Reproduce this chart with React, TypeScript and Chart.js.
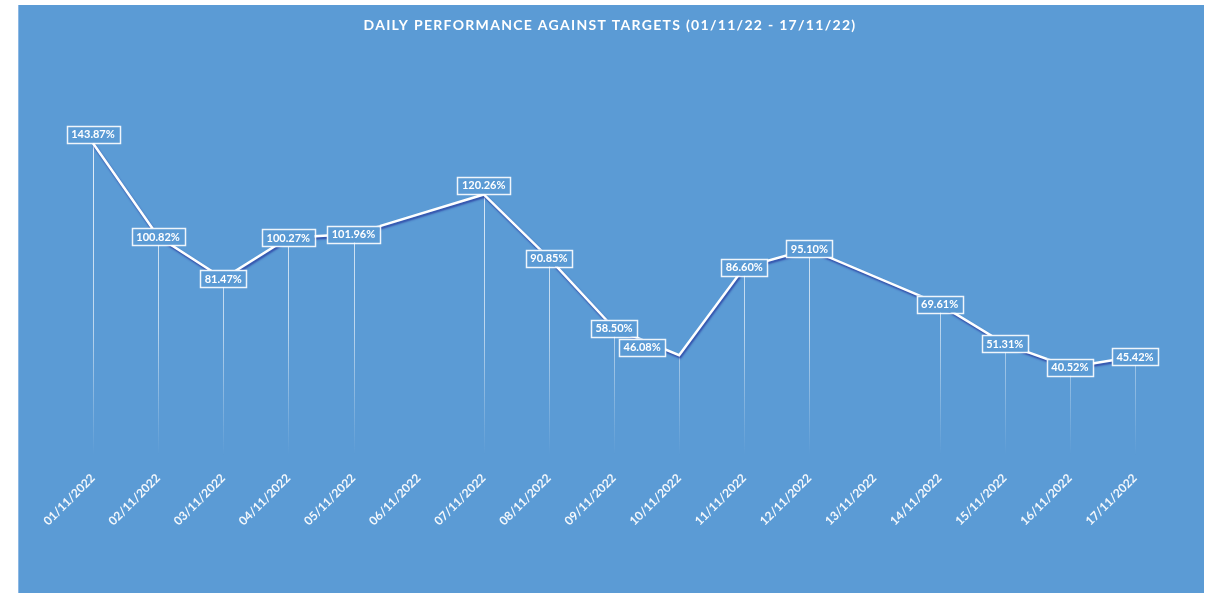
import React, { useEffect, useRef } from "react";
import { Chart, registerables } from "chart.js";

Chart.register(...registerables);

const categories = [
  "01/11/2022", "02/11/2022", "03/11/2022", "04/11/2022", "05/11/2022", "06/11/2022",
  "07/11/2022", "08/11/2022", "09/11/2022", "10/11/2022", "11/11/2022", "12/11/2022",
  "13/11/2022", "14/11/2022", "15/11/2022", "16/11/2022", "17/11/2022",
];
const performance: (number | null)[] = [
  143.87, 100.82, 81.47, 100.27, 101.96, null, 120.26, 90.85, 58.5, 46.08,
  86.6, 95.1, null, 69.61, 51.31, 40.52, 45.42,
];
const titleText = "DAILY PERFORMANCE AGAINST TARGETS (01/11/22 - 17/11/22)";
const yMin = 0;
const yMax = 150;

const BLUE = "#5B9BD5";

// label placement tweaks (index -> [dx, dy])
const labelShift: Record<number, [number, number]> = {
  0: [0, -9],
  6: [0, -9],
  9: [-37, -8],
};

const titlePlugin = {
  id: "customTitle",
  afterDraw(chart: any) {
    const ctx = chart.ctx;
    ctx.save();
    ctx.font = "bold 14px Lato";
    (ctx as any).letterSpacing = "1.3px";
    ctx.fillStyle = "#ffffff";
    ctx.textAlign = "center";
    ctx.textBaseline = "middle";
    ctx.fillText(titleText, 592, 20);
    ctx.restore();
  },
};

const dropLinePlugin = {
  id: "dropLines",
  beforeDatasetsDraw(chart: any) {
    const ctx = chart.ctx;
    const area = chart.chartArea;
    const meta = chart.getDatasetMeta(0);
    const grad = ctx.createLinearGradient(0, area.top, 0, area.bottom);
    grad.addColorStop(0, "rgba(255,255,255,0.85)");
    grad.addColorStop(0.6, "rgba(255,255,255,0.6)");
    grad.addColorStop(1, "rgba(255,255,255,0)");
    ctx.save();
    ctx.strokeStyle = grad;
    ctx.lineWidth = 1;
    meta.data.forEach((el: any, i: number) => {
      if (performance[i] === null) return;
      const x = Math.round(el.x) + 0.5;
      ctx.beginPath();
      ctx.moveTo(x, el.y);
      ctx.lineTo(x, area.bottom);
      ctx.stroke();
    });
    ctx.restore();
  },
};

const shadowPlugin = {
  id: "lineShadow",
  beforeDatasetDraw(chart: any) {
    const ctx = chart.ctx;
    ctx.save();
    ctx.shadowColor = "rgba(40,60,160,0.85)";
    ctx.shadowOffsetX = 1;
    ctx.shadowOffsetY = 2;
    ctx.shadowBlur = 2;
  },
  afterDatasetDraw(chart: any) {
    chart.ctx.restore();
  },
};

const labelPlugin = {
  id: "boxLabels",
  afterDatasetsDraw(chart: any) {
    const ctx = chart.ctx;
    const meta = chart.getDatasetMeta(0);
    ctx.save();
    ctx.font = "bold 11px Lato";
    ctx.textAlign = "center";
    ctx.textBaseline = "middle";
    meta.data.forEach((el: any, i: number) => {
      const v = performance[i];
      if (v === null) return;
      const txt = v.toFixed(2) + "%";
      const shift = labelShift[i] || [0, 0];
      const cx = el.x + shift[0];
      const cy = el.y + shift[1];
      const w = ctx.measureText(txt).width + 9;
      const h = 17;
      ctx.fillStyle = BLUE;
      ctx.fillRect(cx - w / 2, cy - h / 2, w, h);
      ctx.strokeStyle = "rgba(255,255,255,0.9)";
      ctx.lineWidth = 1.5;
      ctx.strokeRect(Math.round(cx - w / 2) + 0.5, Math.round(cy - h / 2) + 0.5, Math.round(w), h);
      ctx.fillStyle = "#ffffff";
      ctx.fillText(txt, cx, cy + 0.5);
    });
    ctx.restore();
  },
};

export default function App() {
  const ref = useRef<HTMLCanvasElement | null>(null);
  useEffect(() => {
    if (!ref.current) return;
    const chart = new Chart(ref.current, {
      type: "line",
      data: {
        labels: categories,
        datasets: [
          {
            data: performance,
            borderColor: "#ffffff",
            borderWidth: 2.5,
            pointRadius: 0,
            tension: 0,
            spanGaps: true,
          },
        ],
      },
      options: {
        animation: false,
        responsive: false,
        layout: { padding: { left: 75, right: 69, top: 125, bottom: 0 } },
        plugins: {
          legend: { display: false },
          title: { display: false },
          tooltip: { enabled: false },
        },
        scales: {
          x: {
            offset: false,
            grid: { display: false },
            border: { display: false },
            ticks: {
              color: "rgba(255,255,255,0.92)",
              font: { family: "Lato", weight: "bold", size: 12 },
              minRotation: 45,
              maxRotation: 45,
              autoSkip: false,
              padding: 8,
            },
            afterFit: (s: any) => {
              s.height = 138;
            },
          },
          y: { display: false, min: yMin, max: yMax },
        },
      },
      plugins: [titlePlugin, dropLinePlugin, shadowPlugin, labelPlugin],
    });
    return () => chart.destroy();
  }, []);

  return (
    <div
      style={{
        position: "absolute",
        left: 18,
        top: 5,
        width: 1186,
        height: 588,
        background: BLUE,
        boxShadow: "inset 1px 0 0 #8DB8E4",
      }}
    >
      <canvas ref={ref} width={1186} height={588} style={{ display: "block" }} />
    </div>
  );
}
